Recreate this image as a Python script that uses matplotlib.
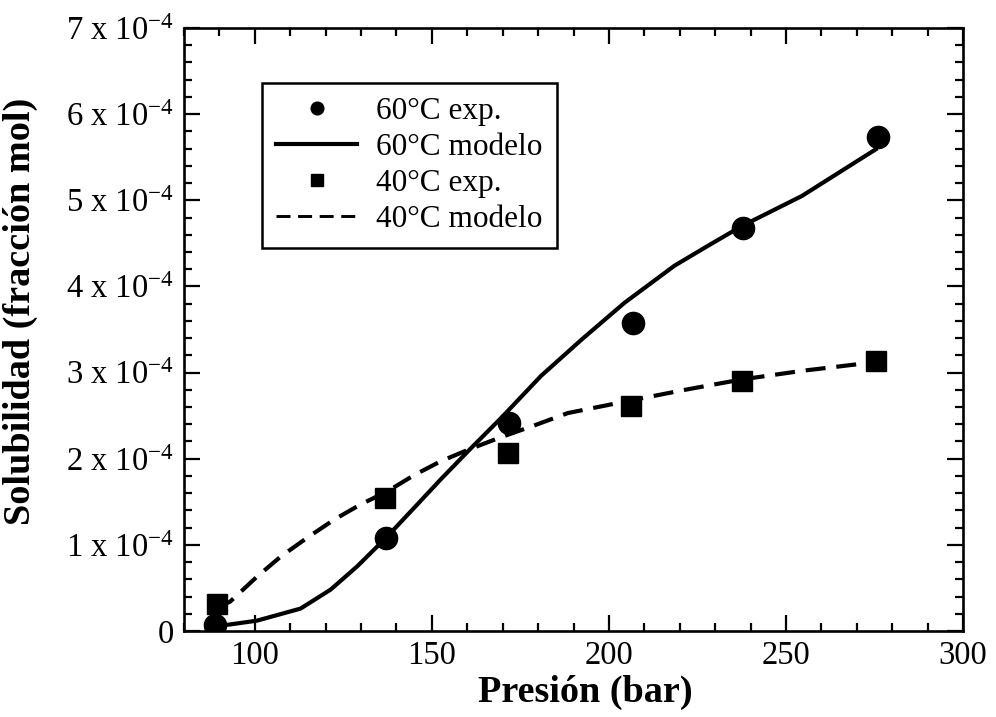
import matplotlib
matplotlib.use("Agg")
import matplotlib.pyplot as plt
from matplotlib.ticker import MultipleLocator, FixedLocator, FuncFormatter
from matplotlib.lines import Line2D

plt.rcParams['font.family'] = ['Liberation Serif', 'DejaVu Serif']
plt.rcParams['mathtext.fontset'] = 'custom'
plt.rcParams['mathtext.rm'] = 'Liberation Serif'
plt.rcParams['mathtext.it'] = 'Liberation Serif:italic'
plt.rcParams['mathtext.bf'] = 'Liberation Serif:bold'

# ---- data (solubility in units of 1e-4 mol fraction) ----
p_exp_60 = [88.8, 137.0, 171.9, 206.8, 238.0, 276.0]
s_exp_60 = [0.07, 1.08, 2.41, 3.58, 4.68, 5.73]

p_exp_40 = [89.2, 136.7, 171.4, 206.2, 237.7, 275.3]
s_exp_40 = [0.31, 1.54, 2.07, 2.61, 2.90, 3.13]

p_mod_60 = [88.5, 100.6, 112.9, 121.4, 128.9, 137.0, 145.0, 152.5, 161.0, 169.5,
            180.8, 192.2, 204.4, 218.5, 227.9, 237.5, 254.5, 275.3]
s_mod_60 = [0.05, 0.12, 0.26, 0.48, 0.75, 1.08, 1.43, 1.76, 2.12, 2.47,
            2.96, 3.38, 3.81, 4.24, 4.47, 4.70, 5.05, 5.59]

p_mod_40 = [89.0, 93.0, 100.6, 107.2, 114.7, 122.3, 129.9, 137.4, 145.0, 152.5,
            160.0, 169.5, 178.5, 188.4, 205.4, 221.5, 237.5, 254.5, 275.0]
s_mod_40 = [0.27, 0.34, 0.63, 0.86, 1.08, 1.29, 1.47, 1.62, 1.81, 1.97,
            2.10, 2.25, 2.38, 2.53, 2.67, 2.80, 2.92, 3.02, 3.12]

scale = 1e-4
x_ticks = [100, 150, 200, 250, 300]
y_ticks = [0, 1, 2, 3, 4, 5, 6, 7]
legend_labels = ['60°C exp.', '60°C modelo', '40°C exp.', '40°C modelo']
x_label = 'Presión (bar)'
y_label = 'Solubilidad (fracción mol)'

fig = plt.figure(figsize=(9.96, 7.17), dpi=100)
ax = fig.add_axes([184/996, 1-631/717, (963-184)/996, (631-28)/717])

lw = 3.0
ax.plot(p_mod_60, [v*scale for v in s_mod_60], color='black', lw=lw,
        solid_joinstyle='round', zorder=2)
ax.plot(p_mod_40, [v*scale for v in s_mod_40], color='black', lw=lw,
        linestyle=(0, (4.8, 2.6)), zorder=2)
ax.plot(p_exp_60, [v*scale for v in s_exp_60], linestyle='none', marker='o',
        markersize=16, color='black', zorder=3)
ax.plot(p_exp_40, [v*scale for v in s_exp_40], linestyle='none', marker='s',
        markersize=15, color='black', zorder=3)

ax.set_xlim(80, 300)
ax.set_ylim(0, 7e-4)
ax.xaxis.set_major_locator(FixedLocator(x_ticks))
ax.xaxis.set_minor_locator(MultipleLocator(10))
ax.yaxis.set_major_locator(FixedLocator([v*scale for v in y_ticks]))
ax.yaxis.set_minor_locator(MultipleLocator(0.2e-4))

def yfmt(v, pos):
    n = int(round(v/scale))
    if n == 0:
        return '0'
    return '%d x 10$^{\\mathrm{-}4}$' % n
ax.yaxis.set_major_formatter(FuncFormatter(yfmt))

ax.tick_params(which='both', direction='in', top=True, right=True, colors='black')
ax.tick_params(which='major', length=11.5, width=1.6, labelsize=23.5, pad=7)
ax.tick_params(which='minor', length=6, width=1.6)
for s in ax.spines.values():
    s.set_linewidth(1.9)

fig.text(20/996, 1-311/717, y_label, rotation=90, ha='center', va='center',
         fontsize=27.5, fontweight='bold')
fig.text(585/996, 1-692/717, x_label, ha='center', va='center',
         fontsize=27.5, fontweight='bold')

handles = [
    Line2D([], [], linestyle='none', marker='o', markersize=16, color='black'),
    Line2D([], [], color='black', lw=lw),
    Line2D([], [], linestyle='none', marker='s', markersize=15, color='black'),
    Line2D([], [], color='black', lw=lw*0.7, linestyle=(0, (4.8, 2.6))),
]
leg = ax.legend(handles, legend_labels, loc='upper left',
                bbox_to_anchor=((262-184)/779, (631-83)/603), borderaxespad=0,
                fontsize=22.5, frameon=True, fancybox=False, shadow=False,
                markerscale=0.57, handlelength=2.6, handletextpad=0.6,
                labelspacing=0.22, borderpad=0.45)
leg.get_frame().set_edgecolor('black')
leg.get_frame().set_linewidth(1.8)
leg.get_frame().set_alpha(1)

fig.savefig('out.png', dpi=100)
